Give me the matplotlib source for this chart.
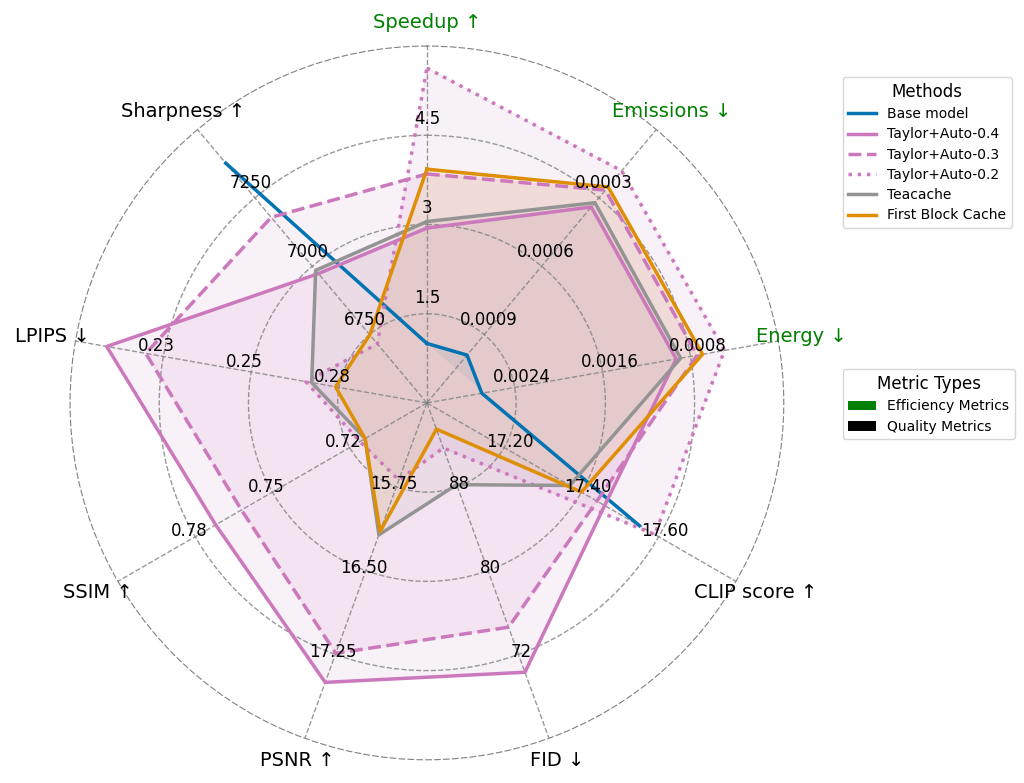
import numpy as np
import matplotlib.pyplot as plt
from matplotlib.patches import Patch

# --- axes / metrics ---
metrics = ["Speedup ↑", "Emissions ↓", "Energy ↓", "CLIP score ↑", "FID ↓",
           "PSNR ↑", "SSIM ↑", "LPIPS ↓", "Sharpness ↑"]
efficiency = [True, True, True, False, False, False, False, False, False]

# value at centre (r=0) and at outer ring (r=1) for each axis
scale_lo = [0.0, 0.0012, 0.0032, 17.0, 96.0, 15.0, 0.69, 0.30, 6500]
scale_hi = [6.0, 0.0, 0.0, 17.8, 64.0, 18.0, 0.81, 0.21, 7500]

tick_labels = [
    ["1.5", "3", "4.5"],
    ["0.0009", "0.0006", "0.0003"],
    ["0.0024", "0.0016", "0.0008"],
    ["17.20", "17.40", "17.60"],
    ["88", "80", "72"],
    ["15.75", "16.50", "17.25"],
    ["0.72", "0.75", "0.78"],
    ["0.28", "0.25", "0.23"],
    ["6750", "7000", "7250"],
]

# --- method results (Speedup, Emissions, Energy, CLIP, FID, PSNR, SSIM, LPIPS, Sharpness) ---
nan = np.nan
base_model   = [1.00, 0.00099, 0.00270, 17.55, nan, nan, nan, nan, 7377]
taylor_04    = [2.94, 0.00034, 0.00093, 17.46, 70.3, 17.50, 0.772, 0.218, 6973]
taylor_03    = [3.85, 0.000266, 0.00074, 17.44, 74.6, 17.24, 0.762, 0.228, 7179]
taylor_02    = [5.63, 0.000181, 0.00049, 17.59, 91.7, 15.69, 0.716, 0.269, 6716]
teacache     = [3.05, 0.000321, 0.00089, 17.37, 88.2, 16.18, 0.714, 0.2705, 6985]
first_block  = [3.93, 0.000252, 0.00069, 17.40, 93.5, 16.15, 0.714, 0.2766, 6749]

methods = ["Base model", "Taylor+Auto-0.4", "Taylor+Auto-0.3",
           "Taylor+Auto-0.2", "Teacache", "First Block Cache"]
results = [base_model, taylor_04, taylor_03, taylor_02, teacache, first_block]
colors = ["#0173B2", "#CC78BC", "#CC78BC", "#CC78BC", "#949494", "#DE8F05"]
styles = ["-", "-", "--", ":", "-", "-"]


def normalize(vals):
    vals = np.array(vals, dtype=float)
    lo = np.array(scale_lo)
    hi = np.array(scale_hi)
    return (vals - lo) / (hi - lo)


n = len(metrics)
angles = np.linspace(0, 2 * np.pi, n, endpoint=False)

fig = plt.figure(figsize=(10.24, 7.83), dpi=100)
ax = fig.add_axes([0.0684, 0.0294, 0.697, 0.912], polar=True)
ax.set_theta_offset(np.pi / 2)
ax.set_theta_direction(-1)

for name, vals, c, ls in zip(methods, results, colors, styles):
    r = normalize(vals)
    th = np.append(angles, angles[0])
    rr = np.append(r, r[0])
    ax.plot(th, rr, color=c, linestyle=ls, linewidth=2.5, label=name)
    ax.fill(th, rr, color=c, alpha=0.1)

ax.set_ylim(0, 1)
ax.set_yticks([0.25, 0.5, 0.75])
ax.set_yticklabels([])
ax.set_xticks(angles)
ax.set_xticklabels([])
ax.grid(True, linestyle="--", color="gray", linewidth=1, alpha=0.8)
ax.spines["polar"].set_linestyle((0, (5, 3)))
ax.spines["polar"].set_color("gray")
ax.spines["polar"].set_linewidth(0.8)

# per-axis value labels
for i in range(n):
    for j, rt in enumerate([0.25, 0.5, 0.75]):
        ax.text(angles[i], rt + 0.02, tick_labels[i][j], ha="center", va="bottom",
                fontsize=12)
    ax.text(angles[i], 1.065, metrics[i], ha="center", va="center", fontsize=14,
            color="green" if efficiency[i] else "black")

handles, labels = ax.get_legend_handles_labels()
fig.legend(handles, labels, title="Methods", loc="upper left",
           bbox_to_anchor=(0.816, 0.910), fontsize=10, title_fontsize=12,
           labelspacing=0.45)

type_handles = [Patch(facecolor="green", label="Efficiency Metrics"),
                Patch(facecolor="black", label="Quality Metrics")]
fig.legend(handles=type_handles, title="Metric Types", loc="upper left",
           bbox_to_anchor=(0.816, 0.537), fontsize=10, title_fontsize=12,
           labelspacing=0.45)

fig.savefig("out.png", dpi=100)
